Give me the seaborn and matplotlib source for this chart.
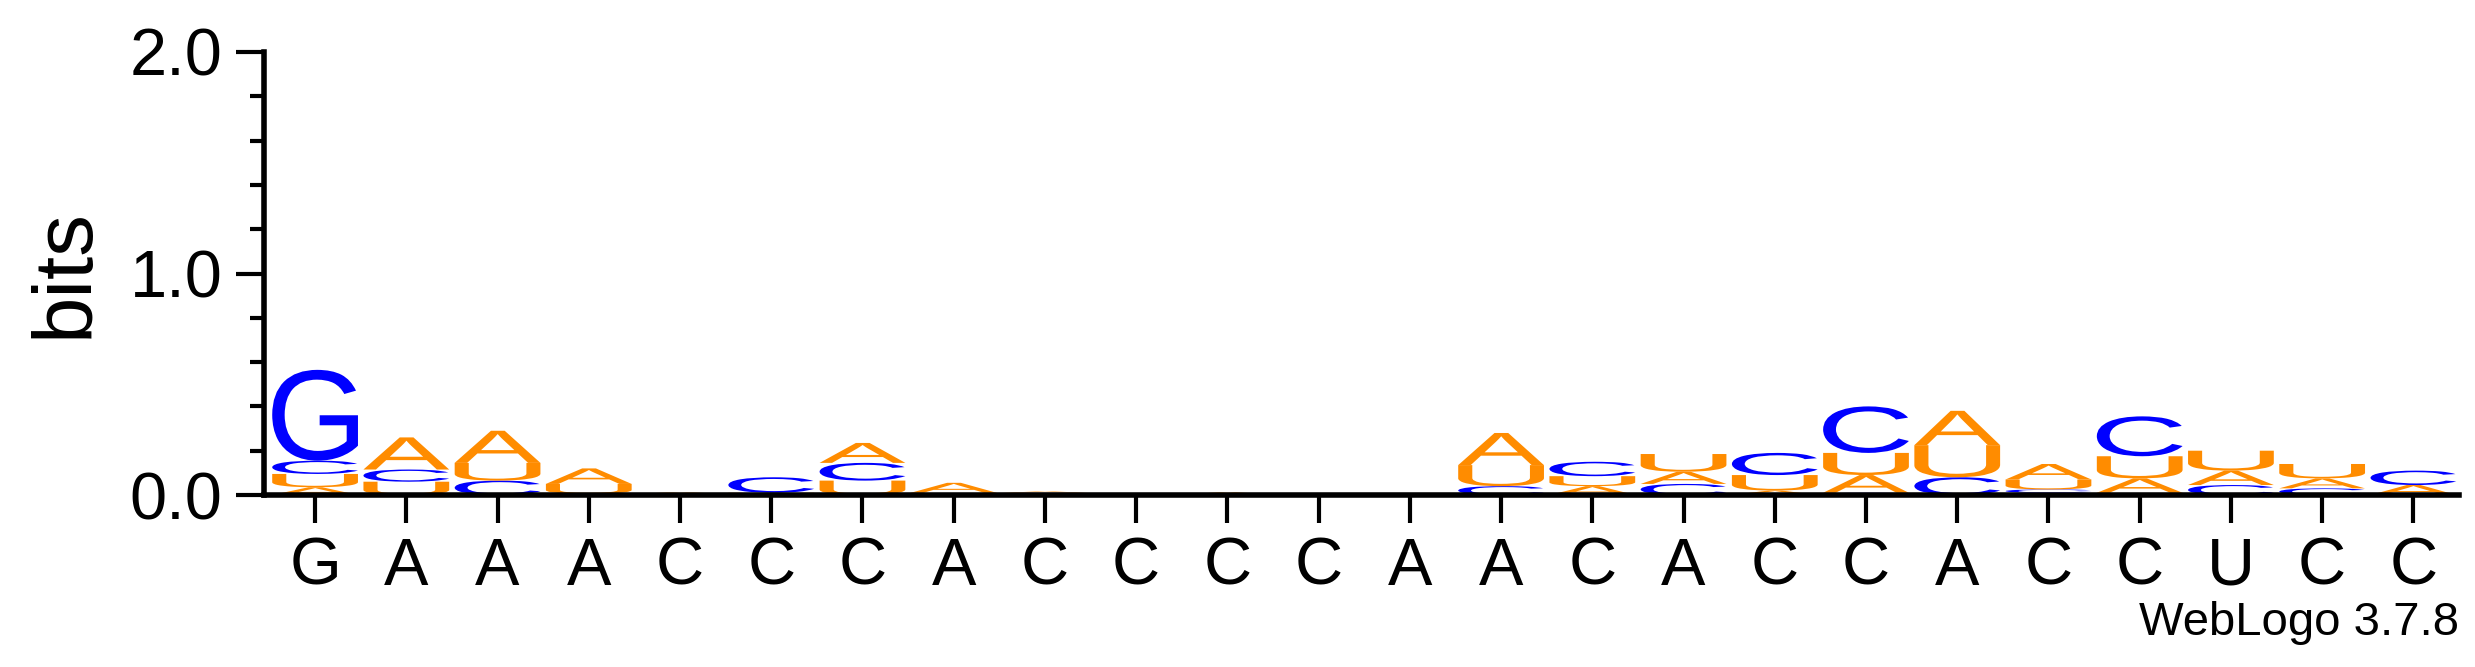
import matplotlib
matplotlib.use("Agg")
import matplotlib.pyplot as plt
import seaborn as sns
import numpy as np
from matplotlib.textpath import TextPath
from matplotlib.patches import PathPatch
from matplotlib.font_manager import FontProperties
from matplotlib.transforms import Affine2D
from matplotlib.ticker import MultipleLocator

labels = list("GAAACCCACCCCAACACCACCUCC")
# stacks bottom -> top: (letter, height in bits)
stacks = [
    [("A", .035), ("U", .06), ("C", .06), ("G", .41)],
    [("U", .06), ("C", .055), ("A", .145)],
    [("C", .065), ("U", .08), ("A", .145)],
    [("C", .005), ("U", .045), ("A", .07)],
    [("U", .006), ("A", .006)],
    [("A", .004), ("U", .006), ("C", .07)],
    [("U", .065), ("C", .08), ("A", .09)],
    [("C", .004), ("U", .006), ("A", .045)],
    [("U", .005), ("C", .005), ("A", .006)],
    [("A", .002)],
    [("U", .004), ("A", .008)],
    [("A", .002)],
    [("U", .003), ("A", .006)],
    [("C", .04), ("U", .095), ("A", .145)],
    [("A", .04), ("U", .045), ("C", .065)],
    [("C", .05), ("A", .055), ("U", .08)],
    [("A", .02), ("U", .07), ("C", .10)],
    [("G", .01), ("A", .08), ("U", .10), ("C", .21)],
    [("C", .08), ("U", .145), ("A", .155)],
    [("G", .01), ("C", .015), ("U", .045), ("A", .07)],
    [("U", .01), ("A", .065), ("U", .10), ("C", .18)],
    [("C", .045), ("A", .065), ("U", .09)],
    [("C", .03), ("A", .045), ("U", .065)],
    [("A", .045), ("C", .065)],
]
colors = {"A": "#FF8C00", "U": "#FF8C00", "C": "#0000FF", "G": "#0000FF"}

sns.set_style("ticks")
plt.rcParams['font.family'] = ['Liberation Sans', 'DejaVu Sans']
plt.rcParams['text.color'] = 'black'
plt.rcParams['axes.labelcolor'] = 'black'
plt.rcParams['xtick.color'] = 'black'
plt.rcParams['ytick.color'] = 'black'

fig = plt.figure(figsize=(24.75, 6.67), dpi=100)
ax = fig.add_axes([264/2475, 1-495/667, (2459-264)/2475, (495-52)/667])
fp = FontProperties(family="Liberation Sans")

def draw_letter(ch, x, y, w, h):
    tp = TextPath((0, 0), ch, size=1, prop=fp)
    bb = tp.get_extents()
    t = Affine2D().translate(-bb.x0, -bb.y0).scale(w / bb.width, h / bb.height).translate(x - w / 2, y)
    ax.add_patch(PathPatch(t.transform_path(tp), fc=colors[ch], ec="none"))

for i, st in enumerate(stacks):
    y = 0
    for ch, h in st:
        draw_letter(ch, i, y, 0.94, h)
        y += h

ax.set_xlim(-0.56, 23.5)
ax.set_ylim(0, 2.0)
ax.set_xticks(range(len(labels)))
ax.set_xticklabels(labels, fontsize=48)
ax.set_yticks([0, 1, 2])
ax.set_yticklabels(["0.0", "1.0", "2.0"], fontsize=48)
ax.yaxis.set_minor_locator(MultipleLocator(0.2))
ax.set_ylabel("bits", fontsize=60, labelpad=18)
for s in ["top", "right"]:
    ax.spines[s].set_visible(False)
for s in ["left", "bottom"]:
    ax.spines[s].set_linewidth(4)
    ax.spines[s].set_color("black")
ax.tick_params(axis="both", which="major", direction="out", length=20, width=3, pad=10)
ax.tick_params(axis="y", which="minor", direction="out", length=10, width=3)
ax.text(1.0, -0.24, "WebLogo 3.7.8", transform=ax.transAxes, ha="right", va="top", fontsize=34)
fig.savefig("out.png", dpi=100)
